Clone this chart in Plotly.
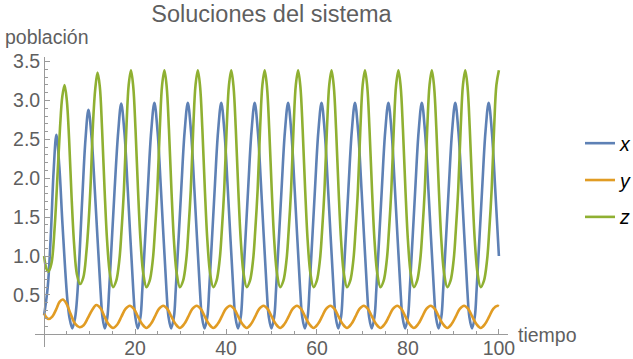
import plotly.graph_objects as go

# ---- data (time, value) ----
x_t = [0.0, 0.8, 1.5, 2.1, 2.7,
       3.35, 4.05, 5.1, 5.6, 6.2, 6.8, 7.3, 8.4, 9.1, 9.75,
       10.45, 11.2, 12.4, 12.85, 13.35, 13.9, 14.3, 15.5, 16.3, 16.95,
       17.65, 18.4, 19.6, 20.05, 20.6, 21.2, 21.6, 22.8, 23.55, 24.25,
       24.95, 25.7, 26.9, 27.35, 27.95, 28.55, 28.95, 30.15, 30.9, 31.6,
       32.3, 33.05, 34.25, 34.7, 35.3, 35.9, 36.3, 37.5, 38.25, 38.95,
       39.65, 40.4, 41.6, 42.05, 42.65, 43.25, 43.65, 44.85, 45.6, 46.3,
       47.0, 47.75, 48.95, 49.4, 50.0, 50.6, 51.0, 52.2, 52.95, 53.65,
       54.35, 55.1, 56.3, 56.75, 57.35, 57.95, 58.35, 59.55, 60.3, 61.0,
       61.7, 62.45, 63.65, 64.1, 64.7, 65.3, 65.7, 66.9, 67.65, 68.35,
       69.05, 69.8, 71.0, 71.45, 72.05, 72.65, 73.05, 74.25, 75.0, 75.7,
       76.4, 77.15, 78.35, 78.8, 79.4, 80.0, 80.4, 81.6, 82.35, 83.05,
       83.75, 84.5, 85.7, 86.15, 86.75, 87.35, 87.75, 88.95, 89.7, 90.4,
       91.1, 91.85, 93.05, 93.5, 94.1, 94.7, 95.1, 96.3, 97.05, 97.75,
       98.45, 99.2, 100.0]
x_v = [0.24, 0.6, 1.3, 2.1, 2.56,
       2.15, 1.4, 0.45, 0.2, 0.07, 0.2, 0.5, 1.75, 2.5, 2.88,
       2.52, 1.8, 0.56, 0.21, 0.07, 0.21, 0.56, 1.85, 2.6, 2.96,
       2.6, 1.85, 0.57, 0.22, 0.07, 0.22, 0.57, 1.85, 2.6, 2.97,
       2.6, 1.85, 0.57, 0.22, 0.07, 0.22, 0.57, 1.85, 2.6, 2.97,
       2.6, 1.85, 0.57, 0.22, 0.07, 0.22, 0.57, 1.85, 2.6, 2.97,
       2.6, 1.85, 0.57, 0.22, 0.07, 0.22, 0.57, 1.85, 2.6, 2.97,
       2.6, 1.85, 0.57, 0.22, 0.07, 0.22, 0.57, 1.85, 2.6, 2.97,
       2.6, 1.85, 0.57, 0.22, 0.07, 0.22, 0.57, 1.85, 2.6, 2.97,
       2.6, 1.85, 0.57, 0.22, 0.07, 0.22, 0.57, 1.85, 2.6, 2.97,
       2.6, 1.85, 0.57, 0.22, 0.07, 0.22, 0.57, 1.85, 2.6, 2.97,
       2.6, 1.85, 0.57, 0.22, 0.07, 0.22, 0.57, 1.85, 2.6, 2.97,
       2.6, 1.85, 0.57, 0.22, 0.07, 0.22, 0.57, 1.85, 2.6, 2.97,
       2.6, 1.85, 0.57, 0.22, 0.07, 0.22, 0.57, 1.85, 2.6, 2.97,
       2.6, 1.85, 1.0]

y_t = [0.0, 0.5, 1.0, 1.8, 2.7, 3.4, 4.1, 4.9, 5.8, 6.8, 7.8, 8.7, 9.6, 10.6, 11.5,
       12.4, 13.3, 14.2, 15.15, 16.1, 17.0, 17.9, 18.85,
       19.75, 20.65, 21.55, 22.5, 23.45, 24.35, 25.25, 26.2,
       27.1, 28.0, 28.9, 29.85, 30.8, 31.7, 32.6, 33.55,
       34.45, 35.35, 36.25, 37.2, 38.15, 39.05, 39.95, 40.9,
       41.8, 42.7, 43.6, 44.55, 45.5, 46.4, 47.3, 48.25,
       49.15, 50.05, 50.95, 51.9, 52.85, 53.75, 54.65, 55.6,
       56.5, 57.4, 58.3, 59.25, 60.2, 61.1, 62.0, 62.95,
       63.85, 64.75, 65.65, 66.6, 67.55, 68.45, 69.35, 70.3,
       71.2, 72.1, 73.0, 73.95, 74.9, 75.8, 76.7, 77.65,
       78.55, 79.45, 80.35, 81.3, 82.25, 83.15, 84.05, 85.0,
       85.9, 86.8, 87.7, 88.65, 89.6, 90.5, 91.4, 92.35,
       93.25, 94.15, 95.05, 96.0, 96.95, 97.85, 98.75, 99.7,
       100.0]
y_v = [0.26, 0.21, 0.19, 0.22, 0.32, 0.41, 0.44, 0.39, 0.26, 0.13, 0.085, 0.11, 0.2, 0.31, 0.37,
       0.33, 0.22, 0.12, 0.075, 0.12, 0.22, 0.32, 0.36,
       0.32, 0.22, 0.125, 0.075, 0.125, 0.22, 0.32, 0.36,
       0.32, 0.22, 0.125, 0.075, 0.125, 0.22, 0.32, 0.36,
       0.32, 0.22, 0.125, 0.075, 0.125, 0.22, 0.32, 0.36,
       0.32, 0.22, 0.125, 0.075, 0.125, 0.22, 0.32, 0.36,
       0.32, 0.22, 0.125, 0.075, 0.125, 0.22, 0.32, 0.36,
       0.32, 0.22, 0.125, 0.075, 0.125, 0.22, 0.32, 0.36,
       0.32, 0.22, 0.125, 0.075, 0.125, 0.22, 0.32, 0.36,
       0.32, 0.22, 0.125, 0.075, 0.125, 0.22, 0.32, 0.36,
       0.32, 0.22, 0.125, 0.075, 0.125, 0.22, 0.32, 0.36,
       0.32, 0.22, 0.125, 0.075, 0.125, 0.22, 0.32, 0.36,
       0.32, 0.22, 0.125, 0.075, 0.125, 0.22, 0.32, 0.36,
       0.355]

z_t = [0.0, 0.5, 0.95, 1.6, 2.3, 3.0, 3.5, 4.0, 4.5,
       5.0, 5.5, 6.05, 6.6, 7.2, 7.9, 8.6, 9.3, 9.8, 10.25, 10.75, 11.25, 11.75,
       12.25, 12.75, 13.3, 13.85, 14.45, 15.15, 15.85, 16.55, 17.05, 17.55, 18.1, 18.6, 19.1,
       19.6, 20.1, 20.65, 21.2, 21.8, 22.5, 23.2, 23.9, 24.4, 24.9, 25.45, 25.95, 26.45,
       26.95, 27.45, 28.0, 28.55, 29.15, 29.85, 30.55, 31.25, 31.75, 32.25, 32.8, 33.3, 33.8,
       34.3, 34.8, 35.35, 35.9, 36.5, 37.2, 37.9, 38.6, 39.1, 39.6, 40.15, 40.65, 41.15,
       41.65, 42.15, 42.7, 43.25, 43.85, 44.55, 45.25, 45.95, 46.45, 46.95, 47.5, 48.0, 48.5,
       49.0, 49.5, 50.05, 50.6, 51.2, 51.9, 52.6, 53.3, 53.8, 54.3, 54.85, 55.35, 55.85,
       56.35, 56.85, 57.4, 57.95, 58.55, 59.25, 59.95, 60.65, 61.15, 61.65, 62.2, 62.7, 63.2,
       63.7, 64.2, 64.75, 65.3, 65.9, 66.6, 67.3, 68.0, 68.5, 69.0, 69.55, 70.05, 70.55,
       71.05, 71.55, 72.1, 72.65, 73.25, 73.95, 74.65, 75.35, 75.85, 76.35, 76.9, 77.4, 77.9,
       78.4, 78.9, 79.45, 80.0, 80.6, 81.3, 82.0, 82.7, 83.2, 83.7, 84.25, 84.75, 85.25,
       85.75, 86.25, 86.8, 87.35, 87.95, 88.65, 89.35, 90.05, 90.55, 91.05, 91.6, 92.1, 92.6,
       93.1, 93.6, 94.15, 94.7, 95.3, 96.0, 96.7, 97.4, 97.9, 98.4, 98.95, 99.45, 100.0]
z_v = [1.0, 0.84, 0.80, 0.9, 1.35, 2.1, 2.65, 3.05, 3.2,
       3.0, 2.5, 1.75, 1.15, 0.77, 0.64, 0.72, 1.05, 1.45, 1.95, 2.7, 3.15, 3.36,
       3.18, 2.63, 1.85, 1.2, 0.78, 0.60, 0.68, 0.95, 1.35, 1.85, 2.65, 3.2, 3.39,
       3.18, 2.63, 1.85, 1.2, 0.78, 0.60, 0.68, 0.95, 1.35, 1.85, 2.65, 3.2, 3.39,
       3.18, 2.63, 1.85, 1.2, 0.78, 0.60, 0.68, 0.95, 1.35, 1.85, 2.65, 3.2, 3.39,
       3.18, 2.63, 1.85, 1.2, 0.78, 0.60, 0.68, 0.95, 1.35, 1.85, 2.65, 3.2, 3.39,
       3.18, 2.63, 1.85, 1.2, 0.78, 0.60, 0.68, 0.95, 1.35, 1.85, 2.65, 3.2, 3.39,
       3.18, 2.63, 1.85, 1.2, 0.78, 0.60, 0.68, 0.95, 1.35, 1.85, 2.65, 3.2, 3.39,
       3.18, 2.63, 1.85, 1.2, 0.78, 0.60, 0.68, 0.95, 1.35, 1.85, 2.65, 3.2, 3.39,
       3.18, 2.63, 1.85, 1.2, 0.78, 0.60, 0.68, 0.95, 1.35, 1.85, 2.65, 3.2, 3.39,
       3.18, 2.63, 1.85, 1.2, 0.78, 0.60, 0.68, 0.95, 1.35, 1.85, 2.65, 3.2, 3.39,
       3.18, 2.63, 1.85, 1.2, 0.78, 0.60, 0.68, 0.95, 1.35, 1.85, 2.65, 3.2, 3.39,
       3.18, 2.63, 1.85, 1.2, 0.78, 0.60, 0.68, 0.95, 1.35, 1.85, 2.65, 3.2, 3.39,
       3.18, 2.63, 1.85, 1.2, 0.78, 0.60, 0.68, 0.95, 1.35, 1.85, 2.65, 3.2, 3.39]

series_names = ["x", "y", "z"]
series_colors = ["#5E81B5", "#E19C24", "#8FB032"]

x_ticks = [20, 40, 60, 80, 100]
x_minor = [5, 10, 15, 25, 30, 35, 45, 50, 55, 65, 70, 75, 85, 90, 95]
y_ticks = [0.5, 1.0, 1.5, 2.0, 2.5, 3.0, 3.5]
y_minor = [round(0.1 * k, 1) for k in range(1, 36)]

FONT = "Liberation Sans, Arial, Helvetica, sans-serif"
GRAY_TXT = "#5f5f5f"
AXIS = "#9a9a9a"

fig = go.Figure()
for name, color, tt, vv in zip(series_names, series_colors, [x_t, y_t, z_t], [x_v, y_v, z_v]):
    fig.add_trace(go.Scatter(x=tt, y=vv, mode="lines", name=name, legendgroup=name,
                             line=dict(color=color, width=2.6, shape="spline", smoothing=1.0)))

xr = [-2, 102]
yr = [-0.17, 3.56]

fig.update_layout(
    width=633, height=359,
    template="none",
    margin=dict(l=35, r=125, t=57, b=12, autoexpand=False),
    plot_bgcolor="white", paper_bgcolor="white",
    font=dict(family=FONT, size=19.5, color=GRAY_TXT),
    title=dict(text="Soluciones del sistema", x=0.5, xref="paper", xanchor="center",
               y=1 - 14 / 359, yref="container", yanchor="middle",
               font=dict(family=FONT, size=23.5, color=GRAY_TXT)),
    xaxis=dict(range=xr, showgrid=False, zeroline=False, showline=True, linecolor=AXIS, linewidth=1,
               anchor="free", position=(0 - yr[0]) / (yr[1] - yr[0]),
               tickmode="array", tickvals=x_ticks, ticktext=[str(v) for v in x_ticks],
               ticks="inside", ticklen=5, tickcolor=AXIS, tickwidth=1, ticklabelstandoff=-3,
               minor=dict(tickmode="array", tickvals=x_minor, ticks="inside", ticklen=3, tickcolor=AXIS),
               tickfont=dict(family=FONT, size=19.5, color=GRAY_TXT), automargin=False),
    yaxis=dict(range=yr, showgrid=False, zeroline=False, showline=True, linecolor=AXIS, linewidth=1,
               anchor="free", position=(0 - xr[0]) / (xr[1] - xr[0]),
               tickmode="array", tickvals=y_ticks, ticktext=["%.1f" % v for v in y_ticks],
               ticks="inside", ticklen=5, tickcolor=AXIS, tickwidth=1,
               minor=dict(tickmode="array", tickvals=y_minor, ticks="inside", ticklen=3, tickcolor=AXIS),
               tickfont=dict(family=FONT, size=19.5, color=GRAY_TXT), automargin=False),
    legend=dict(x=(580 - 35) / 473, xanchor="left", y=(347 - 124) / 290, yanchor="top",
                font=dict(family=FONT, size=19.5, color="black", style="italic"),
                tracegroupgap=8.5, itemwidth=30, bgcolor="rgba(0,0,0,0)"),
    showlegend=True,
    annotations=[
        dict(text="población", xref="paper", yref="paper", x=(3 - 35) / 473, y=(347 - 37) / 290,
             xanchor="left", yanchor="middle", showarrow=False,
             font=dict(family=FONT, size=19.5, color=GRAY_TXT)),
        dict(text="tiempo", xref="paper", yref="paper", x=(516 - 35) / 473, y=(347 - 335) / 290,
             xanchor="left", yanchor="middle", showarrow=False,
             font=dict(family=FONT, size=19.5, color=GRAY_TXT)),
    ],
)

fig.write_html("out.html", config={"displayModeBar": False},
               post_script="document.body.style.margin='0';document.body.style.overflow='hidden';")
